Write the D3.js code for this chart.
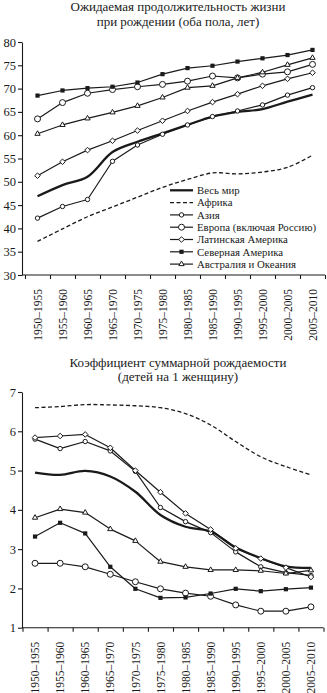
<!DOCTYPE html>
<html>
<head>
<meta charset="utf-8">
<script src="https://cdn.jsdelivr.net/npm/d3@7"></script>
<style>
  html, body { margin: 0; padding: 0; background: #fff; }
  svg { display: block; }
  text { font-family: "Liberation Serif", "DejaVu Serif", serif; fill: #1a1a1a; }
</style>
</head>
<body>
<svg id="chart" width="327" height="693"></svg>
<script>
// Periods (five-year intervals)
const periods = ["1950–1955","1955–1960","1960–1965","1965–1970","1970–1975","1975–1980",
                 "1980–1985","1985–1990","1990–1995","1995–2000","2000–2005","2005–2010"];

// Life expectancy at birth, both sexes, years
const leWorld   = [46.9, 49.3, 51.1, 56.4, 58.6, 60.4, 62.2, 64.0, 65.0, 65.6, 67.2, 68.7];
const leAfrica  = [37.2, 39.9, 42.5, 44.6, 46.7, 48.8, 50.5, 51.9, 51.7, 52.1, 53.1, 55.7];
const leAsia    = [42.2, 44.7, 46.2, 54.4, 57.9, 60.2, 62.2, 64.0, 65.2, 66.5, 68.6, 70.2];
const leEurope  = [63.5, 67.0, 69.0, 69.8, 70.4, 70.9, 71.6, 72.7, 72.3, 73.1, 73.6, 75.2];
const leLatAm   = [51.3, 54.3, 56.8, 58.8, 61.0, 63.1, 65.2, 67.1, 68.8, 70.6, 72.1, 73.4];
const leNorthAm = [68.5, 69.6, 70.1, 70.4, 71.3, 73.1, 74.4, 74.9, 75.8, 76.5, 77.2, 78.3];
const leOceania = [60.3, 62.2, 63.6, 64.9, 66.3, 68.1, 70.2, 70.6, 72.3, 73.5, 75.1, 76.6];

// Total fertility rate, children per woman
const tfrWorld   = [4.95, 4.89, 4.99, 4.85, 4.46, 3.87, 3.57, 3.45, 3.04, 2.77, 2.56, 2.52];
const tfrAfrica  = [6.60, 6.63, 6.68, 6.67, 6.65, 6.60, 6.45, 6.16, 5.74, 5.35, 5.10, 4.89];
const tfrAsia    = [5.80, 5.56, 5.74, 5.50, 4.98, 4.06, 3.70, 3.42, 2.93, 2.55, 2.40, 2.33];
const tfrEurope  = [2.64, 2.64, 2.55, 2.36, 2.17, 1.99, 1.88, 1.80, 1.58, 1.42, 1.42, 1.53];
const tfrLatAm   = [5.84, 5.88, 5.92, 5.58, 5.00, 4.45, 3.91, 3.50, 3.02, 2.76, 2.53, 2.29];
const tfrNorthAm = [3.32, 3.67, 3.40, 2.55, 1.99, 1.76, 1.77, 1.87, 1.99, 1.93, 1.98, 2.02];
const tfrOceania = [3.80, 4.02, 3.93, 3.51, 3.21, 2.68, 2.55, 2.47, 2.47, 2.45, 2.38, 2.46];

const regionNames = ["Весь мир","Африка","Азия","Европа (включая Россию)",
                     "Латинская Америка","Северная Америка","Австралия и Океания"];
const lifeTicks = [30, 35, 40, 45, 50, 55, 60, 65, 70, 75, 80];
const tfrTicks  = [1, 2, 3, 4, 5, 6, 7];

// Drawing style per region
const styles = [
  { width: 2.3, dash: null,  marker: null },
  { width: 1.3, dash: "4,2.5", marker: null },
  { width: 1.2, dash: null,  marker: "smallCircle" },
  { width: 1.2, dash: null,  marker: "circle" },
  { width: 1.2, dash: null,  marker: "diamond" },
  { width: 1.2, dash: null,  marker: "square" },
  { width: 1.2, dash: null,  marker: "triangle" }
];

const svg = d3.select("#chart");
const ink = "#1a1a1a";

function drawMarker(g, type, x, y) {
  if (type === "square") {
    g.append("rect").attr("x", x - 2.1).attr("y", y - 2.1).attr("width", 4.2).attr("height", 4.2)
      .attr("fill", ink);
  } else if (type === "circle") {
    g.append("circle").attr("cx", x).attr("cy", y).attr("r", 3)
      .attr("fill", "#fff").attr("stroke", ink).attr("stroke-width", 1);
  } else if (type === "smallCircle") {
    g.append("circle").attr("cx", x).attr("cy", y).attr("r", 2.2)
      .attr("fill", "#fff").attr("stroke", ink).attr("stroke-width", 1);
  } else if (type === "diamond") {
    g.append("path").attr("d", d3.symbol(d3.symbolDiamond2, 20)())
      .attr("transform", `translate(${x},${y})`)
      .attr("fill", "#fff").attr("stroke", ink).attr("stroke-width", 1);
  } else if (type === "triangle") {
    g.append("path").attr("d", d3.symbol(d3.symbolTriangle2, 20)())
      .attr("transform", `translate(${x},${y})`)
      .attr("fill", "#fff").attr("stroke", ink).attr("stroke-width", 1);
  }
}

function panel(opts) {
  const { series, domain, ticks, yRange, xRange, axisX, title, titleY, legend } = opts;
  const g = svg.append("g");

  const x = d3.scaleBand().domain(periods).range(xRange);
  const xEdge = d3.scaleLinear().domain([0, periods.length]).range(xRange);
  const y = d3.scaleLinear().domain(domain).range(yRange);
  const baseY = yRange[0];

  // Title
  const t = g.append("text").attr("x", 178).attr("y", titleY)
    .attr("text-anchor", "middle").style("font-size", "13px");
  title.forEach((line, i) => t.append("tspan").attr("x", 178).attr("dy", i === 0 ? 0 : 14.5).text(line));

  // Y axis
  const yAxis = g.append("g").attr("transform", `translate(${axisX},0)`)
    .call(d3.axisLeft(y).tickValues(ticks).tickFormat(d3.format("d"))
      .tickSize(4).tickSizeOuter(0).tickPadding(2));
  yAxis.selectAll("text").style("font-size", "12.5px").style("font-family", "Liberation Serif, serif").attr("fill", ink);
  yAxis.selectAll("line, path").attr("stroke", ink).attr("stroke-width", 1.1);

  // X axis: line, boundary ticks and rotated period labels
  g.append("line").attr("x1", axisX).attr("x2", xRange[1]).attr("y1", baseY).attr("y2", baseY)
    .attr("stroke", ink).attr("stroke-width", 1.1);
  const edgeAxis = g.append("g").attr("transform", `translate(0,${baseY})`)
    .call(d3.axisBottom(xEdge).ticks(periods.length).tickSize(4).tickFormat(""));
  edgeAxis.select(".domain").remove();
  edgeAxis.selectAll("line").attr("stroke", ink).attr("stroke-width", 1.1);

  const labelAxis = g.append("g").attr("transform", `translate(0,${baseY})`)
    .call(d3.axisBottom(x).tickSize(0));
  labelAxis.select(".domain").remove();
  labelAxis.selectAll("text")
    .attr("transform", "rotate(-90)")
    .attr("x", -14).attr("y", 0).attr("dy", "0.36em")
    .attr("text-anchor", "end")
    .attr("fill", ink)
    .style("font-size", "11.5px").style("font-family", "Liberation Serif, serif");

  // Series lines
  const cx = (i) => x(periods[i]) + x.bandwidth() / 2;
  series.forEach((vals, k) => {
    const s = styles[k];
    const line = d3.line()
      .x((d, i) => cx(i)).y(d => y(d))
      .curve(s.marker ? d3.curveLinear : d3.curveCatmullRom.alpha(0.5));
    g.append("path").datum(vals).attr("d", line)
      .attr("fill", "none").attr("stroke", ink)
      .attr("stroke-width", s.width)
      .attr("stroke-dasharray", s.dash)
      .attr("stroke-linejoin", "round");
  });
  series.forEach((vals, k) => {
    const s = styles[k];
    if (!s.marker) return;
    vals.forEach((v, i) => drawMarker(g, s.marker, cx(i), y(v)));
  });

  // Legend
  if (legend) {
    const lg = g.append("g");
    regionNames.forEach((name, k) => {
      const ly = legend.y + k * 12.3;
      const s = styles[k];
      lg.append("line").attr("x1", legend.x).attr("x2", legend.x + 23)
        .attr("y1", ly).attr("y2", ly)
        .attr("stroke", ink).attr("stroke-width", s.width).attr("stroke-dasharray", s.dash);
      if (s.marker) drawMarker(lg, s.marker, legend.x + 11.5, ly);
      lg.append("text").attr("x", legend.x + 27).attr("y", ly).attr("dy", "0.35em")
        .style("font-size", "10.8px").text(name);
    });
  }
}

panel({
  series: [leWorld, leAfrica, leAsia, leEurope, leLatAm, leNorthAm, leOceania],
  domain: [30, 80], ticks: lifeTicks, yRange: [275, 42], xRange: [25, 325], axisX: 22,
  title: ["Ожидаемая продолжительность жизни", "при рождении (оба пола, лет)"], titleY: 11,
  legend: { x: 170, y: 190.3 }
});

panel({
  series: [tfrWorld, tfrAfrica, tfrAsia, tfrEurope, tfrLatAm, tfrNorthAm, tfrOceania],
  domain: [1, 7], ticks: tfrTicks, yRange: [627.7, 392], xRange: [22.5, 323.5], axisX: 22,
  title: ["Коэффициент суммарной рождаемости", "(детей на 1 женщину)"], titleY: 366.5,
  legend: null
});
</script>
</body>
</html>
